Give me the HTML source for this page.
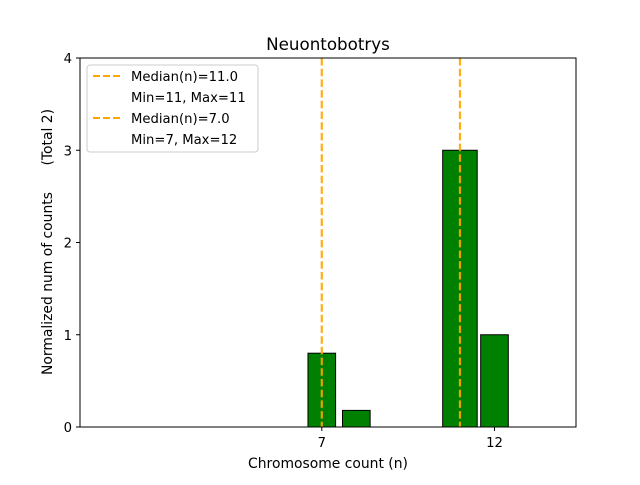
<!DOCTYPE html>
<html><head><meta charset="utf-8"><style>
body{margin:0;background:#fff;}
svg text{font-family:"DejaVu Sans","Liberation Sans",sans-serif;}
</style></head><body>
<svg id="chart" width="640" height="480" xmlns="http://www.w3.org/2000/svg">
<rect width="640" height="480" fill="#fff"/>
<text x="328" y="50" font-size="16.7" text-anchor="middle">Neuontobotrys</text>
<g id="bars"></g>
<g id="medians"></g>
<rect x="80" y="58" width="496" height="369" fill="none" stroke="#000" stroke-width="1"/>
<g id="xticks"></g><g id="yticks"></g>
<text x="328" y="468" font-size="13.9" text-anchor="middle">Chromosome count (n)</text>
<text transform="translate(52,242) rotate(-90)" font-size="13.9" text-anchor="middle" xml:space="preserve" style="white-space:pre">Normalized num of counts      (Total 2)</text>
<g>
<rect x="87" y="65" width="171" height="87" rx="3" fill="#fff" stroke="#ccc"/>
<line x1="93" y1="76" x2="121" y2="76" stroke="#ffa500" stroke-width="2" stroke-dasharray="7,3"/>
<text x="131" y="81" font-size="13.2">Median(n)=11.0</text>
<text x="131" y="102" font-size="13.2">Min=11, Max=11</text>
<line x1="93" y1="118" x2="121" y2="118" stroke="#ffa500" stroke-width="2" stroke-dasharray="7,3"/>
<text x="131" y="123" font-size="13.2">Median(n)=7.0</text>
<text x="131" y="144" font-size="13.2">Min=7, Max=12</text>
</g>
</svg>
<script>
const binCenters=[7,8,11,12];
const binValues=[0.8,0.18,3,1];
const binWidths=[0.8,0.8,1.0,0.8];
const medians=[7,11];
const xTicks=[7,12];
const yTicks=[0,1,2,3,4];
const X0=80,X1=576,Y0=427,Y1=58,xMin=0,xMax=14.36,yMin=0,yMax=4;
const sx=v=>X0+(v-xMin)/(xMax-xMin)*(X1-X0);
const sy=v=>Y0-(v-yMin)/(yMax-yMin)*(Y0-Y1);
const NS="http://www.w3.org/2000/svg";
function mk(t,a,p){const e=document.createElementNS(NS,t);for(const k in a)e.setAttribute(k,a[k]);p.appendChild(e);return e;}
const gb=document.getElementById('bars');
binCenters.forEach((c,i)=>{
 const x=sx(c-binWidths[i]/2),w=sx(c+binWidths[i]/2)-x;
 const r=mk('rect',{x:x,y:sy(binValues[i]),width:w,height:sy(0)-sy(binValues[i]),fill:'#008000',stroke:'#000','stroke-width':1},gb);
 
 
});
const gm=document.getElementById('medians');
medians.forEach(m=>{
 const l=mk('line',{x1:sx(m),x2:sx(m),y1:Y1,y2:Y0,stroke:'#ffa500','stroke-width':2.2,'stroke-dasharray':'7.5,3.2','stroke-opacity':0.9},gm);
 
 
});
const gx=document.getElementById('xticks');
xTicks.forEach(t=>{
 mk('line',{x1:sx(t),x2:sx(t),y1:Y0,y2:Y0+4,stroke:'#000'},gx);
 const tx=mk('text',{x:sx(t),y:Y0+20,'font-size':13.2,'text-anchor':'middle'},gx);
 tx.textContent=t;
 
 
});
const gy=document.getElementById('yticks');
yTicks.forEach(t=>{
 mk('line',{x1:X0-4,x2:X0,y1:sy(t),y2:sy(t),stroke:'#000'},gy);
 const tx=mk('text',{x:X0-8,y:sy(t)+5,'font-size':13.2,'text-anchor':'end'},gy);
 tx.textContent=t;
 
 
});
</script>
</body></html>
